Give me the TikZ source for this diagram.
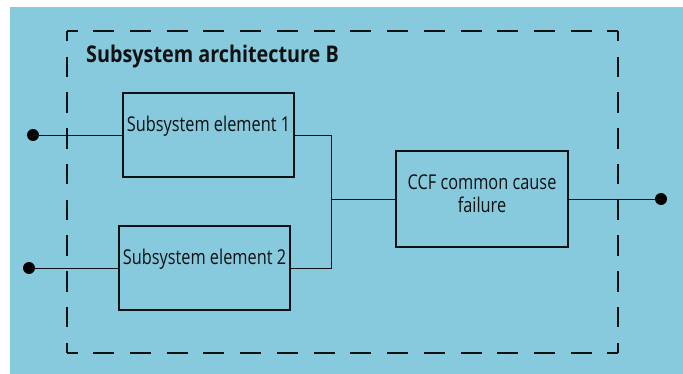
\documentclass[tikz,border=0pt]{standalone}
\usepackage{fontspec}
\newfontfamily\diafont[FakeStretch=0.80]{Open Sans}
\newfontfamily\titlefont[FakeStretch=0.86]{Open Sans}
\definecolor{bgblue}{HTML}{87CADE}
\definecolor{ink}{HTML}{111111}
\begin{document}
\begin{tikzpicture}[x=1pt,y=-1pt,
  box/.style={draw=ink,line width=1.1pt,rectangle,inner sep=0pt},
  lbl/.style={font=\diafont\fontsize{20.4}{23}\selectfont,text=ink,inner sep=0pt,align=center},
  ttl/.style={font=\titlefont\bfseries\fontsize{23}{27}\selectfont,text=ink,inner sep=0pt},
  wire/.style={draw=ink,line width=0.9pt},
  dot/.style={circle,fill=black,minimum size=12pt,inner sep=0pt},
  frameh/.style={draw=ink,line width=1.2pt,dash pattern=on 21pt off 15.73pt,dash phase=10.5pt},
  framev/.style={draw=ink,line width=1.2pt,dash pattern=on 20.5pt off 15.28pt,dash phase=10.25pt}]
\useasboundingbox (0,0) rectangle (683,374);
\fill[white] (0,0) rectangle (683,374);
\fill[bgblue] (10,7) rectangle (683,374);
% dashed frame
\coordinate (fa) at (67,31);
\coordinate (fb) at (618,31);
\coordinate (fc) at (618,353);
\coordinate (fd) at (67,353);
\path[frameh] (fa) -- (fb);
\path[frameh] (fd) -- (fc);
\path[framev] (fa) -- (fd);
\path[framev] (fb) -- (fc);
\node[ttl,anchor=base west] (title) at (86,63) {Subsystem architecture B};
% boxes
\node[box,minimum width=171pt,minimum height=84pt] (e1) at (208.5,135) {};
\node[box,minimum width=171pt,minimum height=84pt] (e2) at (204.5,268) {};
\node[box,minimum width=172pt,minimum height=96pt] (ccf) at (482,199) {};
\node[lbl,anchor=base] (t1) at (208.5,132) {Subsystem element 1};
\node[lbl,anchor=base] (t2) at (204.5,265) {Subsystem element 2};
\node[lbl,anchor=base] (t3) at (482,213) {CCF common cause\\failure};
% terminals
\node[dot] (d1) at (33,135) {};
\node[dot] (d2) at (29,268) {};
\node[dot] (d3) at (661,199) {};
\coordinate (j) at (331,199);
% wires
\draw[wire] (d1.center) -- (e1.west);
\draw[wire] (d2.center) -- (e2.west);
\draw[wire] (e1.east) -| (j);
\draw[wire] (e2.east) -| (j);
\draw[wire] (j) -- (ccf.west);
\draw[wire] (ccf.east) -- (d3.center);
\end{tikzpicture}
\end{document}
